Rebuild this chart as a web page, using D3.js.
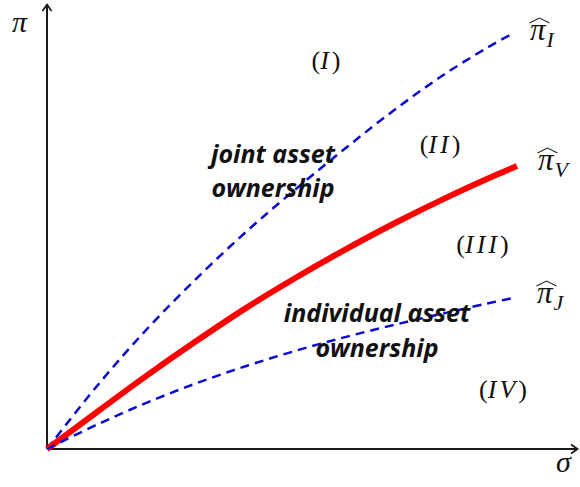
<!DOCTYPE html>
<html>
<head>
<meta charset="utf-8">
<script src="https://cdn.jsdelivr.net/npm/d3@7"></script>
<style>
  body { margin: 0; background: #fff; }
  .math { font-family: "Liberation Serif", "DejaVu Serif", serif; font-style: italic; fill: #111; }
  .note { font-family: "Open Sans", "Lato", sans-serif; font-style: italic; font-weight: bold; fill: #111; }
</style>
</head>
<body>
<div class="chart"></div>
<script>

// curve readings, sigma on x (0..10), pi on y (0..10)
var sigmaI = [0, 1, 2, 3, 4, 5, 6, 7, 8, 9, 9.26];
var piI    = [0, 1.575, 3.0, 4.275, 5.45, 6.525, 7.55, 8.525, 9.41, 10.175, 10.35];

var sigmaV = [0, 1, 2, 3, 4, 5, 6, 7, 8, 9, 9.4];
var piV    = [0, 0.925, 1.84, 2.71, 3.54, 4.3, 5.01, 5.675, 6.29, 6.86, 7.075];

var sigmaJ = [0, 1, 2, 3, 4, 5, 6, 7, 8, 9, 9.32];
var piJ    = [0, 0.61, 1.16, 1.65, 2.08, 2.465, 2.81, 3.12, 3.41, 3.69, 3.775];

var regionLabels = ['I', 'II', 'III', 'IV'];
var regionPos = [[5.58, 9.5], [7.86, 7.4], [8.71, 4.9], [9.12, 1.28]];
var noteLines = [['joint asset', 'ownership'], ['individual asset', 'ownership']];

var width = 580, height = 487;

var x = d3.scaleLinear().domain([0, 10]).range([47, 547]);
var y = d3.scaleLinear().domain([0, 10]).range([449, 49]);

var svg = d3.select('.chart')
  .append('svg')
  .attr('width', width)
  .attr('height', height);

// axes with open arrow heads
svg.append('line')
  .attr('x1', x(0)).attr('y1', y(0))
  .attr('x2', x(0)).attr('y2', 5)
  .attr('stroke', '#1a1a1a').attr('stroke-width', 2);
svg.append('path')
  .attr('d', 'M' + (x(0) - 4.5) + ',11 L' + x(0) + ',4.5 L' + (x(0) + 4.5) + ',11')
  .attr('fill', 'none').attr('stroke', '#1a1a1a').attr('stroke-width', 1.8);

svg.append('line')
  .attr('x1', x(0)).attr('y1', y(0))
  .attr('x2', 577).attr('y2', y(0))
  .attr('stroke', '#1a1a1a').attr('stroke-width', 2);
svg.append('path')
  .attr('d', 'M571,' + (y(0) - 4.5) + ' L577.5,' + y(0) + ' L571,' + (y(0) + 4.5))
  .attr('fill', 'none').attr('stroke', '#1a1a1a').attr('stroke-width', 1.8);

svg.append('text').attr('class', 'math')
  .attr('x', 12).attr('y', 32)
  .style('font-size', '30px')
  .text('π');
svg.append('text').attr('class', 'math')
  .attr('x', 556).attr('y', 472)
  .style('font-size', '30px')
  .text('σ');

var line = d3.line()
  .x(function(d) { return x(d[0]); })
  .y(function(d) { return y(d[1]); })
  .curve(d3.curveCatmullRom.alpha(0.5));

var series = [
  { name: 'I', pts: d3.zip(sigmaI, piI), color: '#0b0bd0', w: 2.5, dash: '9,6', off: [20, 5] },
  { name: 'V', pts: d3.zip(sigmaV, piV), color: '#ff0000', w: 6, dash: null, off: [21, 4] },
  { name: 'J', pts: d3.zip(sigmaJ, piJ), color: '#0b0bd0', w: 2.5, dash: '9,6', off: [24, 5] }
];

svg.selectAll('path.curve')
  .data(series)
  .enter()
  .append('path')
  .attr('class', 'curve')
  .attr('d', function(d) { return line(d.pts); })
  .attr('fill', 'none')
  .attr('stroke', function(d) { return d.color; })
  .attr('stroke-width', function(d) { return d.w; })
  .attr('stroke-dasharray', function(d) { return d.dash; });

// hat-pi labels at the end of each curve
series.forEach(function(s) {
  var last = s.pts[s.pts.length - 1];
  var lx = x(last[0]) + s.off[0];
  var ly = y(last[1]) + s.off[1];
  var t = svg.append('text').attr('class', 'math')
    .attr('x', lx).attr('y', ly)
    .style('font-size', '31px');
  t.append('tspan').text('π');
  t.append('tspan').attr('dy', 7).attr('dx', 1).style('font-size', '22px').text(s.name);
  svg.append('path')
    .attr('d', 'M' + (lx - 0.5) + ',' + (ly - 17) + ' L' + (lx + 9.5) + ',' + (ly - 22) + ' L' + (lx + 19.5) + ',' + (ly - 17))
    .attr('fill', 'none').attr('stroke', '#222').attr('stroke-width', 1.1);
});

// region labels (I)..(IV)
regionLabels.forEach(function(r, i) {
  var t = svg.append('text').attr('class', 'math')
    .attr('x', x(regionPos[i][0])).attr('y', y(regionPos[i][1]))
    .attr('text-anchor', 'middle')
    .style('font-size', '26px');
  t.append('tspan').style('font-style', 'normal').text('(');
  t.append('tspan').attr('letter-spacing', 3).text(r);
  t.append('tspan').style('font-style', 'normal').text(')');
});

// annotations
var notePos = [[273, 163], [377, 322]];
var noteGap = [33.5, 35];
noteLines.forEach(function(lines, i) {
  svg.append('text').attr('class', 'note')
    .attr('x', notePos[i][0]).attr('y', notePos[i][1])
    .attr('text-anchor', 'middle')
    .style('font-size', '25px')
    .selectAll('tspan')
    .data(lines)
    .enter()
    .append('tspan')
    .attr('x', notePos[i][0])
    .attr('dy', function(d, j) { return j ? noteGap[i] : 0; })
    .text(function(d) { return d; });
});

</script>
</body>
</html>
